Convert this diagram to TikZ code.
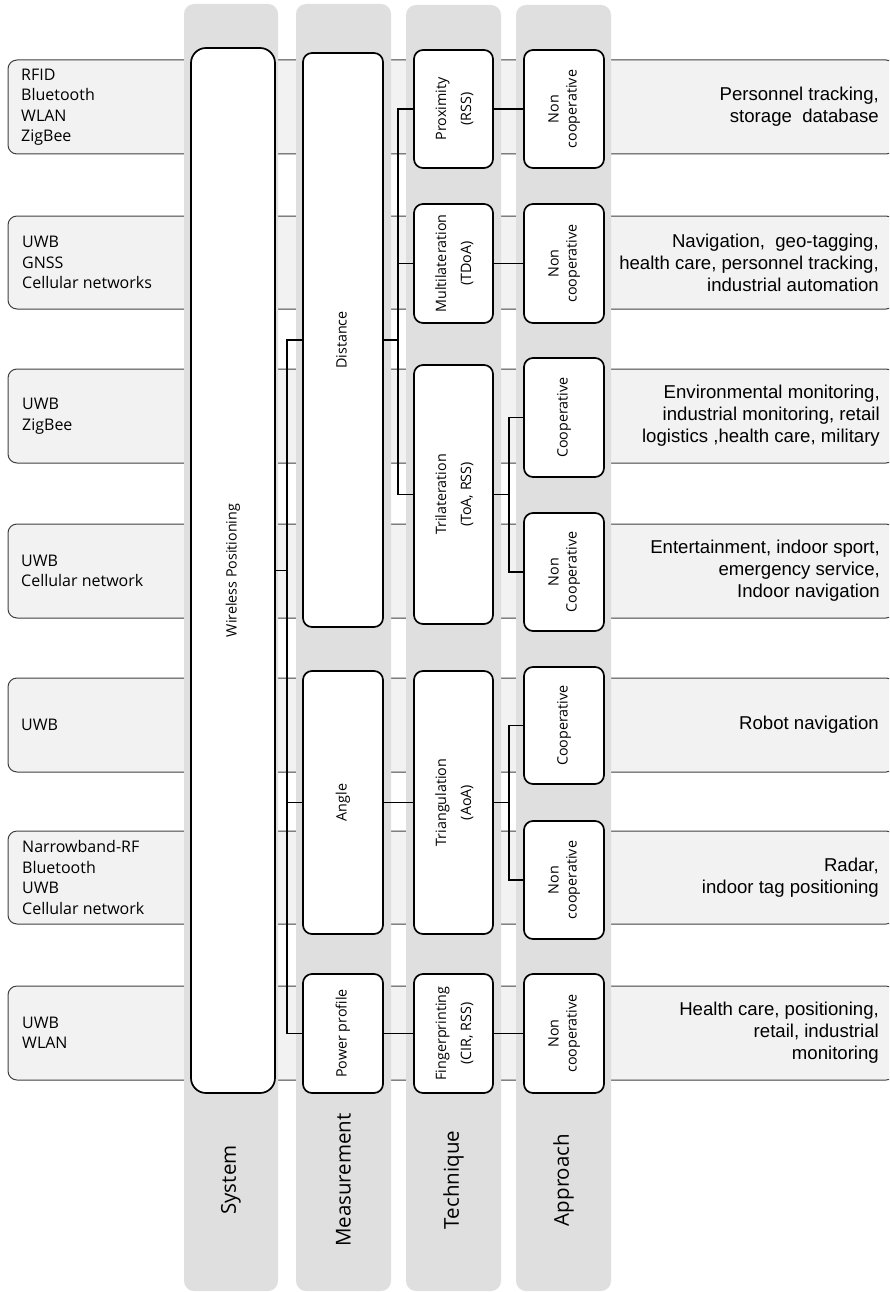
\documentclass[tikz,border=0pt]{standalone}
\usepackage{fontspec}
\setmainfont{Open Sans}
\newfontfamily\arialf{Liberation Sans}
\usepackage{graphicx}
\definecolor{bandfill}{HTML}{F2F2F2}
\definecolor{colfill}{HTML}{DFDFDF}
\definecolor{bandline}{HTML}{404040}
\newcommand{\vlab}[2]{\rotatebox{90}{\fontsize{14.3}{#1}\selectfont\begin{tabular}{@{}c@{}}#2\end{tabular}}}
\begin{document}
\begin{tikzpicture}[x=1pt,y=-1pt,
  band/.style={fill=bandfill, draw=bandline, line width=1pt, rounded corners=9pt},
  lane/.style={fill=colfill, rounded corners=10pt},
  box/.style={draw=black, line width=1.7pt, fill=white, rounded corners=9pt, inner sep=0pt, align=center},
  conn/.style={draw=black, line width=1.5pt},
  lefttxt/.style={anchor=west, align=left, font=\fontsize{16}{20.5}\selectfont, inner sep=0pt},
  righttxt/.style={anchor=east, align=right, font=\arialf\fontsize{18.6}{22}\selectfont, inner sep=0pt},
  lanelabel/.style={font=\fontsize{20.5}{24}\selectfont, rotate=90, inner sep=0pt}]
\useasboundingbox (0,0) rectangle (889,1292);
\clip (0,0) rectangle (889,1292);
% row bands
\foreach \t/\b in {60/154,216/309,369/463,524/618,678/772,831/924,986/1080}
  \draw[band] (8,\t) rectangle (895,\b);
% lanes
\fill[lane] (184,4) rectangle (278,1291);
\fill[lane] (296,4) rectangle (391,1291);
\fill[lane] (406,5) rectangle (501,1291);
\fill[lane] (516,5) rectangle (611,1291);
% lane labels
\node[lanelabel] (lsys) at (231,1180) {System};
\node[lanelabel] (lmea) at (343.5,1180) {Measurement};
\node[lanelabel] (ltec) at (453.5,1180) {Technique};
\node[lanelabel] (lapp) at (563.5,1180) {Approach};
% left texts
\node[lefttxt] (L1) at (21,107) {RFID\\Bluetooth\\WLAN\\ZigBee};
\node[lefttxt] (L2) at (22,262.5) {UWB\\GNSS\\Cellular networks};
\node[lefttxt] (L3) at (22,416) {UWB\\ZigBee};
\node[lefttxt] (L4) at (21,571) {UWB\\Cellular network};
\node[lefttxt] (L5) at (21,725) {UWB};
\node[lefttxt] (L6) at (22,877.5) {Narrowband-RF\\Bluetooth\\UWB\\Cellular network};
\node[lefttxt] (L7) at (22,1033) {UWB\\WLAN};
% right texts
\node[righttxt] (R1) at (879,107) {Personnel tracking,\\storage\ \ database};
\node[righttxt] (R2) at (879,262.5) {Navigation,\ \ geo-tagging,\\health care, personnel tracking,\\industrial automation};
\node[righttxt] (R3) at (880,416) {Environmental monitoring,\\industrial monitoring, retail\\logistics ,health care, military};
\node[righttxt] (R4) at (880,571) {Entertainment, indoor sport,\\emergency service,\\Indoor navigation};
\node[righttxt] (R5) at (879,725) {Robot navigation};
\node[righttxt] (R6) at (879,877.5) {Radar,\\indoor tag positioning};
\node[righttxt] (R7) at (879,1033) {Health care, positioning,\\retail, industrial\\monitoring};
% system
\node[box, rounded corners=15pt, minimum width=84pt, minimum height=1045pt] (sys) at (233,570.5) {\vlab{18}{Wireless Positioning}};
% measurement
\node[box, minimum width=80pt, minimum height=574pt] (dist) at (343,340) {\vlab{18}{Distance}};
\node[box, minimum width=80pt, minimum height=263pt] (ang) at (343,802.5) {\vlab{18}{Angle}};
\node[box, minimum width=80pt, minimum height=119pt] (pow) at (343,1033.5) {\vlab{18}{Power profile}};
% technique
\node[box, minimum width=79pt, minimum height=118pt] (prox) at (453.5,109) {\vlab{25}{Proximity\\(RSS)}};
\node[box, minimum width=79pt, minimum height=119pt] (mul) at (453.5,263.5) {\vlab{25}{Multilateration\\(TDoA)}};
\node[box, minimum width=79pt, minimum height=259pt] (tri) at (453.5,494.5) {\vlab{25}{Trilateration\\(ToA, RSS)}};
\node[box, minimum width=79pt, minimum height=263pt] (trg) at (453.5,802.5) {\vlab{25}{Triangulation\\(AoA)}};
\node[box, minimum width=79pt, minimum height=119pt] (fin) at (453.5,1033.5) {\vlab{25}{Fingerprinting\\(CIR, RSS)}};
% approach
\node[box, minimum width=80pt, minimum height=118pt] (a1) at (564,109) {\vlab{18}{Non\\cooperative}};
\node[box, minimum width=80pt, minimum height=119pt] (a2) at (564,263.5) {\vlab{18}{Non\\cooperative}};
\node[box, minimum width=80pt, minimum height=119pt] (a3) at (564,417.5) {\vlab{18}{Cooperative}};
\node[box, minimum width=80pt, minimum height=118pt] (a4) at (564,572) {\vlab{18}{Non\\Cooperative}};
\node[box, minimum width=80pt, minimum height=117pt] (a5) at (564,725.5) {\vlab{18}{Cooperative}};
\node[box, minimum width=80pt, minimum height=118pt] (a6) at (564,880) {\vlab{18}{Non\\cooperative}};
\node[box, minimum width=80pt, minimum height=119pt] (a7) at (564,1033.5) {\vlab{18}{Non\\cooperative}};
% junction x positions
\coordinate (j1) at (287,0);
\coordinate (j2) at (398,0);
\coordinate (j3) at (509,0);
% connectors system -> measurement
\draw[conn] (sys.east) -- (sys.east -| j1);
\draw[conn] (dist.west) -- (dist.west -| j1) |- (pow.west);
\draw[conn] (ang.west) -- (ang.west -| j1);
% distance -> techniques
\draw[conn] (dist.east) -- (dist.east -| j2);
\draw[conn] (prox.west) -- (prox.west -| j2) |- (tri.west);
\draw[conn] (mul.west) -- (mul.west -| j2);
% angle, power -> technique
\draw[conn] (ang.east) -- (trg.west);
\draw[conn] (pow.east) -- (fin.west);
% technique -> approach
\draw[conn] (prox.east) -- (a1.west);
\draw[conn] (mul.east) -- (a2.west);
\draw[conn] (tri.east) -- (tri.east -| j3);
\draw[conn] (a3.west) -- (a3.west -| j3) |- (a4.west);
\draw[conn] (trg.east) -- (trg.east -| j3);
\draw[conn] (a5.west) -- (a5.west -| j3) |- (a6.west);
\draw[conn] (fin.east) -- (a7.west);
\end{tikzpicture}
\end{document}
